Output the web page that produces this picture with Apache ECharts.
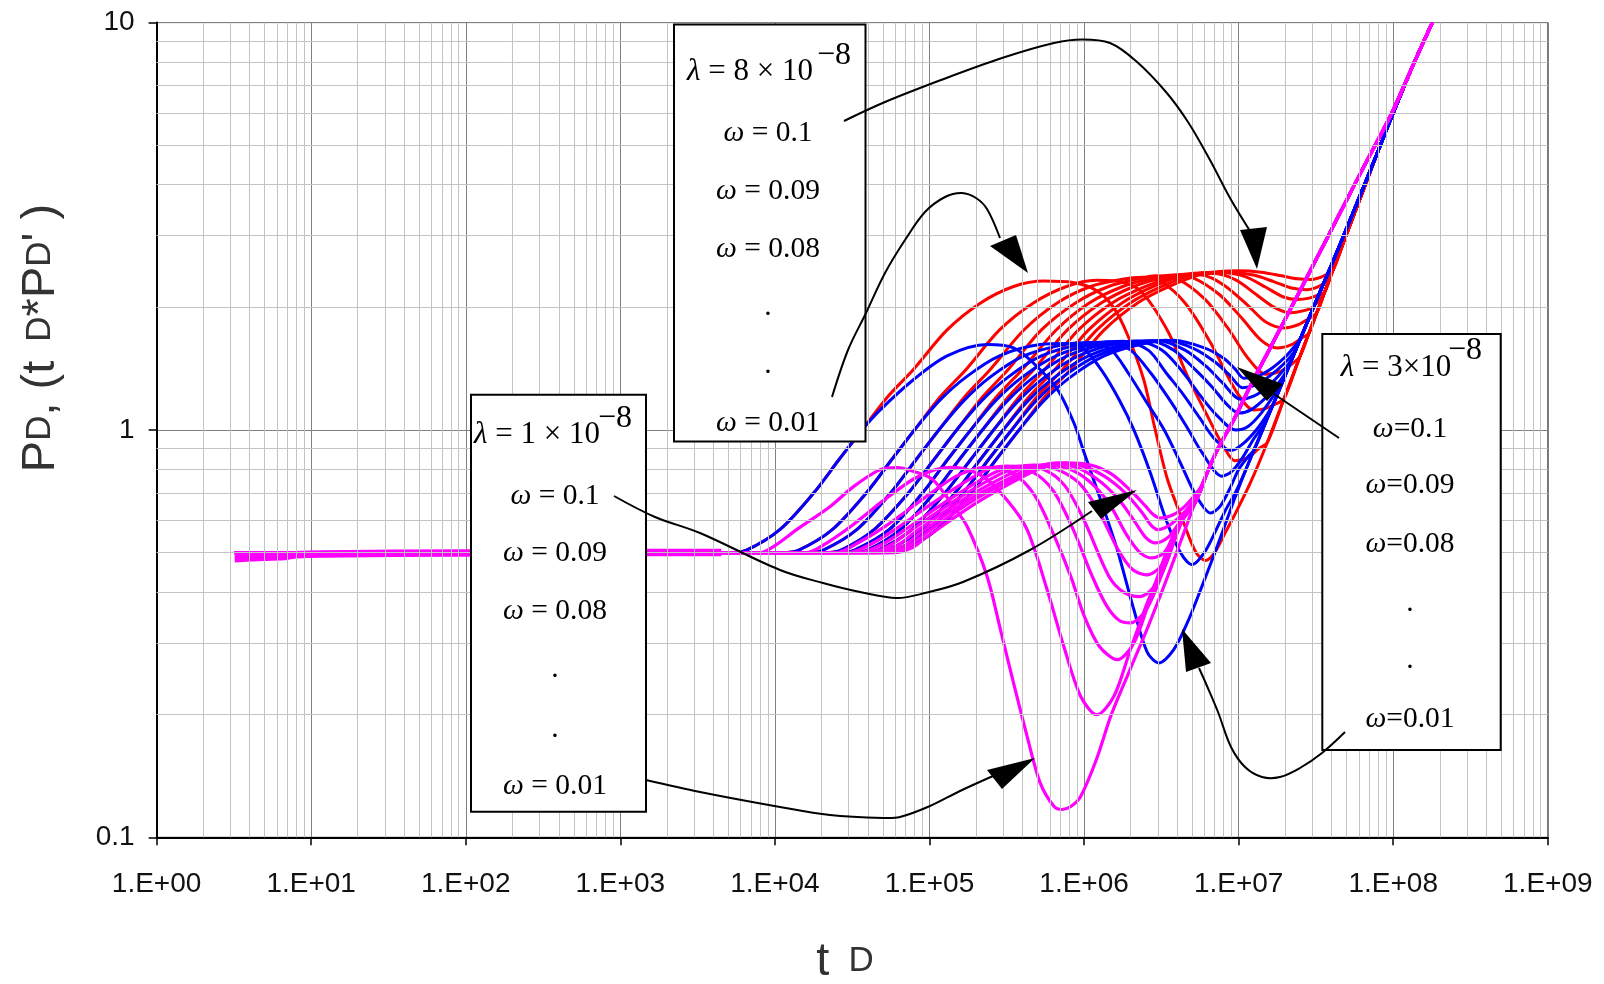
<!DOCTYPE html>
<html><head><meta charset="utf-8">
<script src="https://cdn.jsdelivr.net/npm/echarts/dist/echarts.min.js"></script>
<style>html,body{margin:0;padding:0;background:#fff}#c{width:1604px;height:984px}</style>
</head><body><div id="c"></div><script>
// ---------- tick labels ----------
const xTickLabels = ['1.E+00','1.E+01','1.E+02','1.E+03','1.E+04','1.E+05','1.E+06','1.E+07','1.E+08','1.E+09'];
const yTickLabels = ['0.1','1','10'];
const omegaRowsSpaced = [' = 0.1',' = 0.09',' = 0.08','.','.',' = 0.01'];
const omegaRowsTight = ['=0.1','=0.09','=0.08','.','.','=0.01'];

// ---------- shared early radial-flow plateau (all curves overlap) ----------
const earlyFlat = [[3.2,0.5],[30,0.5],[300,0.5],[2000,0.5]];
const earlyBand = [[3.2,0.483],[5,0.487],[7,0.49],[8,0.494],[12,0.496],[100,0.499],[1000,0.5],[4500,0.5]];

// ---------- late common lines ----------
const redTail = [[9.3e6,0.613],[1.19e7,0.741],[1.53e7,0.93],[1.96e7,1.19],[2.5e7,1.52],[2.85e7,1.73],[3.2e7,1.94],[3.6e7,2.18],[4e7,2.43],[5e7,3.03],[6.3e7,3.82],[8e7,4.85],[1e8,6.0],[1.35e8,7.9],[1.79e8,10]];
const blueTail = [[3.8e6,0.289],[4.65e6,0.336],[5.67e6,0.405],[7.3e6,0.52],[9.3e6,0.67],[1.1e7,0.79],[1.26e7,0.895],[1.6e7,1.11],[2e7,1.36],[2.5e7,1.67],[3.2e7,2.09],[4e7,2.55],[5e7,3.13],[6.3e7,3.88],[8e7,4.85],[1e8,6.0],[1.35e8,7.9],[1.79e8,10]];
const magentaTail = [[3.3e6,0.415],[4.2e6,0.53],[5.2e6,0.66],[6.3e6,0.79],[7.3e6,0.895],[9.3e6,1.06],[1.2e7,1.29],[1.6e7,1.59],[2e7,1.87],[2.5e7,2.2],[3.2e7,2.64],[4e7,3.11],[5e7,3.67],[6.3e7,4.35],[8e7,5.17],[1e8,6.1],[1.35e8,7.9],[1.79e8,10]];

// ---------- lambda = 8e-8 (red), omega = 0.01 ... 0.1 ----------
const r01 = [[5e3,0.5],[6.6e3,0.508],[1.08e4,0.57],[1.78e4,0.70],[2.6e4,0.846],[3.66e4,1.0],[5.3e4,1.2],[7.9e4,1.41],[1.3e5,1.76],[2.14e5,2.05],[3.5e5,2.25],[5.5e5,2.32],[8.5e5,2.3],[1.2e6,2.2],[1.55e6,2.0],[1.9e6,1.72],[2.43e6,1.33],[2.82e6,1.04],[3.45e6,0.76],[4.42e6,0.59],[5.3e6,0.5],[6.1e6,0.478],[7e6,0.5],[8.2e6,0.56]];
const r02 = [[1.12e4,0.5],[1.44e4,0.508],[2.36e4,0.57],[3.9e4,0.70],[5.7e4,0.846],[8e4,1.0],[1.16e5,1.2],[1.73e5,1.41],[2.84e5,1.76],[4.7e5,2.05],[7.7e5,2.25],[1.2e6,2.33],[1.6e6,2.32],[2.3e6,2.2],[3.45e6,1.76],[4.65e6,1.36],[6.3e6,1.08],[8.0e6,0.91],[9.5e6,0.84],[1.15e7,0.855],[1.35e7,0.9]];
const r03 = [[1.61e4,0.5],[2.07e4,0.508],[3.4e4,0.57],[5.6e4,0.70],[8.2e4,0.846],[1.15e5,1.0],[1.67e5,1.2],[2.48e5,1.41],[4.08e5,1.76],[6.7e5,2.05],[1.1e6,2.25],[1.73e6,2.34],[2.4e6,2.37],[3.1e6,2.32],[4.5e6,2.05],[6.5e6,1.65],[9e6,1.3],[1.1e7,1.16],[1.25e7,1.12],[1.5e7,1.13],[1.75e7,1.16]];
const r04 = [[2.1e4,0.5],[2.7e4,0.508],[4.4e4,0.57],[7.3e4,0.70],[1.07e5,0.846],[1.5e5,1.0],[2.18e5,1.2],[3.24e5,1.41],[5.3e5,1.76],[8.8e5,2.05],[1.44e6,2.25],[2.25e6,2.35],[2.9e6,2.39],[4e6,2.35],[6e6,2.1],[8.5e6,1.78],[1.15e7,1.5],[1.5e7,1.37],[1.85e7,1.39],[2.2e7,1.45]];
const r05 = [[2.6e4,0.5],[3.3e4,0.508],[5.5e4,0.57],[9e4,0.70],[1.31e5,0.846],[1.85e5,1.0],[2.68e5,1.2],[4e5,1.41],[6.6e5,1.76],[1.08e6,2.05],[1.78e6,2.25],[2.78e6,2.36],[3.8e6,2.4],[5e6,2.37],[7.5e6,2.15],[1.05e7,1.88],[1.4e7,1.66],[1.78e7,1.59],[2.2e7,1.62],[2.55e7,1.68]];
const r06 = [[3.1e4,0.5],[4e4,0.508],[6.5e4,0.57],[1.07e5,0.70],[1.56e5,0.846],[2.2e5,1.0],[3.2e5,1.2],[4.75e5,1.41],[7.8e5,1.76],[1.29e6,2.05],[2.1e6,2.25],[3.3e6,2.37],[4.5e6,2.41],[5.8e6,2.4],[8e6,2.27],[1.15e7,2.02],[1.5e7,1.84],[1.96e7,1.78],[2.4e7,1.81],[2.8e7,1.87]];
const r07 = [[3.6e4,0.5],[4.7e4,0.508],[7.7e4,0.57],[1.26e5,0.70],[1.85e5,0.846],[2.6e5,1.0],[3.77e5,1.2],[5.6e5,1.41],[9.2e5,1.76],[1.52e6,2.05],[2.5e6,2.25],[3.9e6,2.38],[5.2e6,2.42],[6.8e6,2.42],[9.5e6,2.34],[1.3e7,2.15],[1.7e7,2.0],[2.17e7,1.94],[2.6e7,1.96],[3.0e7,2.0]];
const r08 = [[4.2e4,0.5],[5.4e4,0.508],[8.9e4,0.57],[1.46e5,0.70],[2.13e5,0.846],[3e5,1.0],[4.35e5,1.2],[6.5e5,1.41],[1.07e6,1.76],[1.76e6,2.05],[2.88e6,2.26],[4.5e6,2.4],[6e6,2.43],[7.8e6,2.43],[1.1e7,2.38],[1.5e7,2.24],[1.95e7,2.12],[2.4e7,2.09],[2.9e7,2.11],[3.3e7,2.15]];
const r09 = [[4.8e4,0.5],[6.1e4,0.508],[1.0e5,0.57],[1.65e5,0.70],[2.41e5,0.846],[3.4e5,1.0],[4.9e5,1.2],[7.3e5,1.41],[1.21e6,1.76],[1.99e6,2.05],[3.26e6,2.26],[5.1e6,2.41],[6.8e6,2.44],[8.8e6,2.44],[1.25e7,2.4],[1.7e7,2.31],[2.2e7,2.23],[2.78e7,2.21],[3.2e7,2.24],[3.6e7,2.3]];
const r10 = [[5.3e4,0.5],[6.8e4,0.508],[1.12e5,0.57],[1.85e5,0.70],[2.7e5,0.846],[3.8e5,1.0],[5.5e5,1.2],[8.2e5,1.41],[1.35e6,1.76],[2.22e6,2.05],[3.65e6,2.26],[5.7e6,2.41],[7.5e6,2.45],[9.8e6,2.46],[1.4e7,2.44],[1.9e7,2.39],[2.4e7,2.35],[2.92e7,2.34],[3.4e7,2.37],[3.8e7,2.42]];

// ---------- lambda = 3e-8 (blue) ----------
const b01 = [[5e3,0.5],[6.6e3,0.508],[1.08e4,0.57],[1.78e4,0.70],[2.6e4,0.846],[3.66e4,1.0],[4.8e4,1.12],[7.9e4,1.33],[1.3e5,1.52],[2.36e5,1.62],[3.5e5,1.59],[4.7e5,1.46],[6.7e5,1.26],[8.6e5,1.04],[1.0e6,0.88],[1.28e6,0.674],[1.64e6,0.508],[2.1e6,0.362],[2.56e6,0.285],[3.04e6,0.268]];
const b02 = [[1.12e4,0.5],[1.44e4,0.508],[2.36e4,0.57],[3.9e4,0.70],[5.7e4,0.846],[8e4,1.0],[1.16e5,1.18],[1.73e5,1.35],[2.84e5,1.52],[5.2e5,1.62],[8e5,1.63],[1.0e6,1.58],[1.3e6,1.40],[1.7e6,1.18],[2.1e6,1.0],[2.7e6,0.78],[3.4e6,0.6],[4.2e6,0.5],[5e6,0.467],[6e6,0.5],[7.1e6,0.565],[8.3e6,0.64],[9.5e6,0.7]];
const b03 = [[1.61e4,0.5],[2.07e4,0.508],[3.4e4,0.57],[5.6e4,0.70],[8.2e4,0.846],[1.15e5,1.0],[1.67e5,1.18],[2.48e5,1.35],[4.08e5,1.52],[7.4e5,1.62],[1.1e6,1.64],[1.5e6,1.57],[1.93e6,1.38],[2.5e6,1.18],[3.3e6,1.0],[4.2e6,0.83],[5.3e6,0.69],[6.6e6,0.625],[7.6e6,0.65],[8.8e6,0.72],[1.0e7,0.8],[1.15e7,0.86]];
const b04 = [[2.1e4,0.5],[2.7e4,0.508],[4.4e4,0.57],[7.3e4,0.70],[1.07e5,0.846],[1.5e5,1.0],[2.18e5,1.18],[3.24e5,1.35],[5.3e5,1.52],[9.7e5,1.625],[1.45e6,1.645],[2e6,1.57],[2.7e6,1.38],[3.5e6,1.2],[4.6e6,1.02],[5.8e6,0.88],[7.8e6,0.77],[9e6,0.79],[1.05e7,0.85],[1.25e7,0.95],[1.45e7,1.03]];
const b05 = [[2.6e4,0.5],[3.3e4,0.508],[5.5e4,0.57],[9e4,0.70],[1.31e5,0.846],[1.85e5,1.0],[2.68e5,1.18],[4e5,1.35],[6.6e5,1.52],[1.19e6,1.63],[1.8e6,1.65],[2.6e6,1.57],[3.4e6,1.38],[4.4e6,1.22],[5.6e6,1.07],[7e6,0.95],[8.9e6,0.89],[1.05e7,0.92],[1.3e7,1.0],[1.55e7,1.1],[1.75e7,1.2]];
const b06 = [[3.1e4,0.5],[4e4,0.508],[6.5e4,0.57],[1.07e5,0.70],[1.56e5,0.846],[2.2e5,1.0],[3.2e5,1.18],[4.75e5,1.35],[7.8e5,1.52],[1.42e6,1.63],[2.2e6,1.65],[3.2e6,1.57],[4.4e6,1.38],[5.5e6,1.23],[7e6,1.1],[9.6e6,1.0],[1.15e7,1.02],[1.4e7,1.1],[1.7e7,1.22],[1.9e7,1.3]];
const b07 = [[3.6e4,0.5],[4.7e4,0.508],[7.7e4,0.57],[1.26e5,0.70],[1.85e5,0.846],[2.6e5,1.0],[3.77e5,1.18],[5.6e5,1.35],[9.2e5,1.52],[1.68e6,1.635],[2.6e6,1.655],[3.8e6,1.57],[5.3e6,1.4],[6.8e6,1.27],[8.3e6,1.16],[1.0e7,1.10],[1.2e7,1.12],[1.5e7,1.2],[1.8e7,1.3],[2.05e7,1.4]];
const b08 = [[4.2e4,0.5],[5.4e4,0.508],[8.9e4,0.57],[1.46e5,0.70],[2.13e5,0.846],[3e5,1.0],[4.35e5,1.18],[6.5e5,1.35],[1.07e6,1.52],[1.94e6,1.63],[3.0e6,1.655],[4.5e6,1.57],[6.2e6,1.43],[7.8e6,1.31],[1.03e7,1.19],[1.25e7,1.21],[1.55e7,1.28],[1.85e7,1.37],[2.15e7,1.47]];
const b09 = [[4.8e4,0.5],[6.1e4,0.508],[1.0e5,0.57],[1.65e5,0.70],[2.41e5,0.846],[3.4e5,1.0],[4.9e5,1.18],[7.3e5,1.35],[1.21e6,1.52],[2.19e6,1.63],[3.4e6,1.66],[5.2e6,1.58],[7e6,1.47],[8.8e6,1.36],[1.06e7,1.27],[1.3e7,1.29],[1.6e7,1.36],[1.95e7,1.45],[2.3e7,1.56]];
const b10 = [[5.3e4,0.5],[6.8e4,0.508],[1.12e5,0.57],[1.85e5,0.70],[2.7e5,0.846],[3.8e5,1.0],[5.5e5,1.18],[8.2e5,1.35],[1.35e6,1.52],[2.45e6,1.63],[3.8e6,1.66],[6e6,1.59],[8e6,1.5],[9.5e6,1.41],[1.08e7,1.34],[1.35e7,1.36],[1.65e7,1.42],[2e7,1.51],[2.35e7,1.62]];

// ---------- lambda = 1e-8 (magenta) ----------
const m01 = [[8e3,0.5],[1.0e4,0.52],[1.39e4,0.57],[2.28e4,0.649],[3.24e4,0.727],[4.8e4,0.799],[6.2e4,0.808],[8e4,0.79],[1.05e5,0.755],[1.43e5,0.649],[1.75e5,0.58],[2.36e5,0.437],[2.88e5,0.323],[3.5e5,0.239],[4.28e5,0.177],[5.2e5,0.136],[6.4e5,0.119],[7.2e5,0.117],[8.2e5,0.119],[9.5e5,0.126],[1.2e6,0.155],[1.5e6,0.2],[2e6,0.26],[2.56e6,0.325]];
const m02 = [[1.6e4,0.5],[2.2e4,0.53],[3.2e4,0.585],[5e4,0.67],[8e4,0.76],[1.1e5,0.8],[1.43e5,0.81],[2.2e5,0.77],[3.2e5,0.67],[4.28e5,0.569],[5.77e5,0.405],[7.4e5,0.294],[9.5e5,0.222],[1.21e6,0.2],[1.56e6,0.222],[2.0e6,0.29],[2.56e6,0.376],[3.28e6,0.471],[4.2e6,0.59]];
const m03 = [[2.5e4,0.5],[3.5e4,0.53],[5e4,0.575],[8.5e4,0.665],[1.4e5,0.76],[1.9e5,0.8],[2.36e5,0.81],[3.5e5,0.78],[4.8e5,0.69],[6.4e5,0.55],[8.2e5,0.437],[1.0e6,0.35],[1.25e6,0.295],[1.64e6,0.273],[2.1e6,0.30],[2.7e6,0.39],[3.4e6,0.5],[4.2e6,0.6]];
const m04 = [[3e4,0.5],[4.2e4,0.525],[6e4,0.57],[1.1e5,0.67],[1.9e5,0.765],[2.5e5,0.805],[3.18e5,0.815],[4.6e5,0.79],[6.3e5,0.71],[8.5e5,0.57],[1.13e6,0.437],[1.4e6,0.37],[1.7e6,0.34],[2.0e6,0.336],[2.5e6,0.36],[3.1e6,0.43],[3.8e6,0.53],[4.5e6,0.62]];
const m05 = [[3.5e4,0.5],[5e4,0.525],[7e4,0.57],[1.3e5,0.67],[2.3e5,0.765],[3.1e5,0.805],[3.87e5,0.815],[5.5e5,0.8],[7.5e5,0.73],[1.0e6,0.6],[1.45e6,0.437],[1.8e6,0.4],[2.3e6,0.39],[2.8e6,0.41],[3.4e6,0.47],[4e6,0.56],[4.7e6,0.64]];
const m06 = [[4e4,0.5],[5.6e4,0.522],[7.5e4,0.565],[1.45e5,0.67],[2.7e5,0.77],[3.7e5,0.81],[4.73e5,0.82],[6.7e5,0.8],[9.3e5,0.74],[1.25e6,0.63],[1.65e6,0.51],[2.05e6,0.455],[2.55e6,0.441],[3.1e6,0.46],[3.7e6,0.52],[4.3e6,0.6],[4.9e6,0.65]];
const m07 = [[4.5e4,0.5],[6.2e4,0.52],[8e4,0.56],[1.6e5,0.67],[3.1e5,0.77],[4.2e5,0.81],[5.5e5,0.82],[7.8e5,0.805],[1.07e6,0.75],[1.45e6,0.66],[1.9e6,0.55],[2.3e6,0.5],[2.75e6,0.485],[3.3e6,0.5],[3.9e6,0.56],[4.5e6,0.62],[5.0e6,0.65]];
const m08 = [[5e4,0.5],[6.8e4,0.518],[8.5e4,0.555],[1.75e5,0.67],[3.5e5,0.77],[4.7e5,0.81],[6.2e5,0.825],[8.8e5,0.81],[1.2e6,0.76],[1.65e6,0.68],[2.1e6,0.6],[2.5e6,0.545],[2.9e6,0.528],[3.5e6,0.545],[4.1e6,0.59],[4.7e6,0.64],[5.1e6,0.655]];
const m09 = [[5.5e4,0.5],[7.3e4,0.517],[9e4,0.55],[1.9e5,0.67],[3.9e5,0.775],[5.2e5,0.815],[6.86e5,0.83],[9.8e5,0.815],[1.35e6,0.77],[1.85e6,0.7],[2.35e6,0.63],[2.7e6,0.585],[3.0e6,0.569],[3.6e6,0.585],[4.3e6,0.62],[4.9e6,0.655],[5.5e6,0.69]];
const m10 = [[6e4,0.5],[7.8e4,0.515],[9.5e4,0.545],[2.05e5,0.665],[4.2e5,0.775],[5.7e5,0.815],[7.6e5,0.83],[1.1e6,0.82],[1.5e6,0.78],[2.0e6,0.71],[2.5e6,0.65],[2.8e6,0.62],[3.1e6,0.608],[3.8e6,0.62],[4.5e6,0.65],[5.1e6,0.685],[5.7e6,0.725]];

const redCurves = [r01,r02,r03,r04,r05,r06,r07,r08,r09,r10];
const blueCurves = [b01,b02,b03,b04,b05,b06,b07,b08,b09,b10];
const magentaCurves = [m01,m02,m03,m04,m05,m06,m07,m08,m09,m10];

// ---------- build ----------
function joinCurve(own, tail) {
  const last = own[own.length - 1];
  return earlyFlat.concat(own, tail.filter(p => p[0] > last[0] && p[1] >= last[1]));
}
function lineSeries(data, color, width) {
  return {type:'line', data, symbol:'none', showSymbol:false, smooth:0.3,
    lineStyle:{color, width}, itemStyle:{color}, silent:true, animation:false, z:3,
    emphasis:{disabled:true}};
}
const series = [];
// minor grid lines (2..9 within each decade)
const minorX = [], minorY = [];
for (let e = 0; e < 9; e++) for (let d = 2; d <= 9; d++) minorX.push(d * Math.pow(10, e));
for (let e = -1; e < 1; e++) for (let d = 2; d <= 9; d++) minorY.push(+(d * Math.pow(10, e)).toFixed(3));
series.push({type:'line', data:[[1,1]], symbol:'none', lineStyle:{opacity:0}, silent:true, animation:false, z:1,
  markLine:{silent:true, animation:false, symbol:['none','none'], label:{show:false},
    lineStyle:{color:'#c4c4c4', width:1, type:'solid'}, emphasis:{disabled:true},
    data: minorX.map(v => ({xAxis:v})).concat(minorY.map(v => ({yAxis:v})))}});
redCurves.forEach(c => series.push(lineSeries(joinCurve(c, redTail), '#ff0000', 3)));
blueCurves.forEach(c => series.push(lineSeries(joinCurve(c, blueTail), '#0000ff', 3)));
magentaCurves.forEach(c => series.push(lineSeries(joinCurve(c, magentaTail), '#ff00ff', 3.2)));
series.push(lineSeries(earlyBand, '#ff00ff', 7.5));

// ---------- annotations ----------
const SERIF = 'Liberation Serif';
const G = [];
function rich(size) {
  return {i:{fontFamily:SERIF, fontStyle:'italic', fontSize:size, fill:'#000'},
          n:{fontFamily:SERIF, fontSize:size, fill:'#000'}};
}
function boxBlock(rect, lamText, lamPos, supPos, rowX, rowYs, rows) {
  G.push({type:'rect', shape:{x:rect[0], y:rect[1], width:rect[2], height:rect[3]},
    style:{fill:'#fff', stroke:'#000', lineWidth:2}, z:50});
  G.push({type:'text', x:lamPos[0], y:lamPos[1], z:51,
    style:{text:'{i|λ}{n|' + lamText + '}', rich:rich(31), align:'center', verticalAlign:'middle'}});
  G.push({type:'text', x:supPos[0], y:supPos[1], z:51,
    style:{text:'−8', fontFamily:SERIF, fontSize:32, fill:'#000', align:'center', verticalAlign:'middle'}});
  rows.forEach((r, k) => {
    const isDot = r === '.';
    G.push({type:'text', x:rowX, y:rowYs[k], z:51,
      style:{text: isDot ? '{n|.}' : '{i|ω}{n|' + r + '}', rich:rich(29.5), align:'center', verticalAlign:'middle'}});
  });
}
boxBlock([674, 24.5, 191.5, 417], ' = 8 × 10', [750, 72], [834, 56], 768, [133, 191, 249, 307, 365, 423], omegaRowsSpaced);
boxBlock([471, 394.7, 175, 417], ' = 1 × 10', [537, 435], [615, 419], 555, [496, 553, 611, 669, 729, 786], omegaRowsSpaced);
boxBlock([1322.3, 334, 178.4, 416], ' = 3×10', [1396, 368], [1465, 351], 1410, [429, 485, 544, 603, 660, 719], omegaRowsTight);

function arrow(points, head) {
  G.push({type:'polyline', shape:{points, smooth:0.35}, style:{stroke:'#000', lineWidth:2, fill:null}, z:60});
  G.push({type:'polygon', shape:{points:head}, style:{fill:'#000'}, z:61});
}
arrow([[844,121],[885,102],[941,80],[1002,58],[1054,43],[1082,39.5],[1110,43],[1136,61],[1166,92],[1188,122],[1210,160],[1230,198],[1250,231]],
      [[1240,230],[1267,227],[1257,269]]);
arrow([[832,397],[848,350],[866,313],[885,273],[905,240],[925,212],[945,197],[962,193],[976,198],[987,209],[1000,238]],
      [[990,246],[1016,235],[1028,273]]);
arrow([[614,496],[655,517],[700,533],[780,570],[823,583],[860,592],[897,598],[925,593],[963,582],[1030,550],[1092,511]],
      [[1088,502],[1101,519],[1137,490]]);
arrow([[646,780],[700,792],[780,807],[830,815],[883,818],[900,817],[930,806],[960,791],[993,776]],
      [[987,770],[1002,789],[1035,758]]);
arrow([[1339,438],[1274,394]],
      [[1267,401],[1283,384],[1237,367]]);
arrow([[1345,732],[1322,753],[1300,768],[1280,777],[1262,777],[1245,767],[1231,747],[1218,712],[1207,686],[1199,668]],
      [[1186,672],[1211,663],[1182,629]]);

// axis titles (big letters + smaller "D" on a common baseline)
const titleRich = {
  b:{fontFamily:'Liberation Sans', fontSize:47, fill:'#333'},
  s:{fontFamily:'Liberation Sans', fontSize:35, fill:'#333', padding:[0,0,2,0]},
  g:{fontFamily:'Liberation Sans', fontSize:35, fill:'#333', padding:[0,0,2,6]}};
G.push({type:'text', x:41, y:338, rotation:Math.PI/2, z:40,
  style:{text:"{b|P}{s|D}{b|, (t }{g|D}{b|*P}{s|D}{b|' )}", align:'center', verticalAlign:'middle', rich:titleRich}});
G.push({type:'text', x:845, y:962, z:40,
  style:{text:'{b|t }{g|D}', align:'center', verticalAlign:'middle', rich:titleRich}});

// ---------- chart ----------
const chart = echarts.init(document.getElementById('c'), null, {renderer:'canvas'});
chart.setOption({
  animation:false,
  backgroundColor:'#fff',
  grid:{left:156.6, right:56.2, top:22.6, bottom:146.7, show:true, borderColor:'#404040', borderWidth:1},
  xAxis:{type:'log', logBase:10, min:1, max:1e9, splitNumber:9,
    axisLine:{show:true, onZero:false, lineStyle:{color:'#000', width:2}},
    axisTick:{show:true, length:8, lineStyle:{color:'#000', width:1.5}},
    axisLabel:{formatter:v => xTickLabels[Math.round(Math.log10(v))], fontSize:28, fontFamily:'Liberation Sans', color:'#111', margin:33},
    splitLine:{show:true, lineStyle:{color:'#808080', width:1}},
    minorTick:{show:false}, minorSplitLine:{show:false}},
  yAxis:{type:'log', logBase:10, min:0.1, max:10,
    axisLine:{show:true, onZero:false, lineStyle:{color:'#000', width:2}},
    axisTick:{show:true, length:8, lineStyle:{color:'#000', width:1.5}},
    axisLabel:{formatter:v => yTickLabels[Math.round(Math.log10(v)) + 1], fontSize:28, fontFamily:'Liberation Sans', color:'#111', margin:22},
    splitLine:{show:true, lineStyle:{color:'#808080', width:1}},
    minorTick:{show:false}, minorSplitLine:{show:false}},
  series,
  graphic:{elements:G}
});
</script></body></html>
